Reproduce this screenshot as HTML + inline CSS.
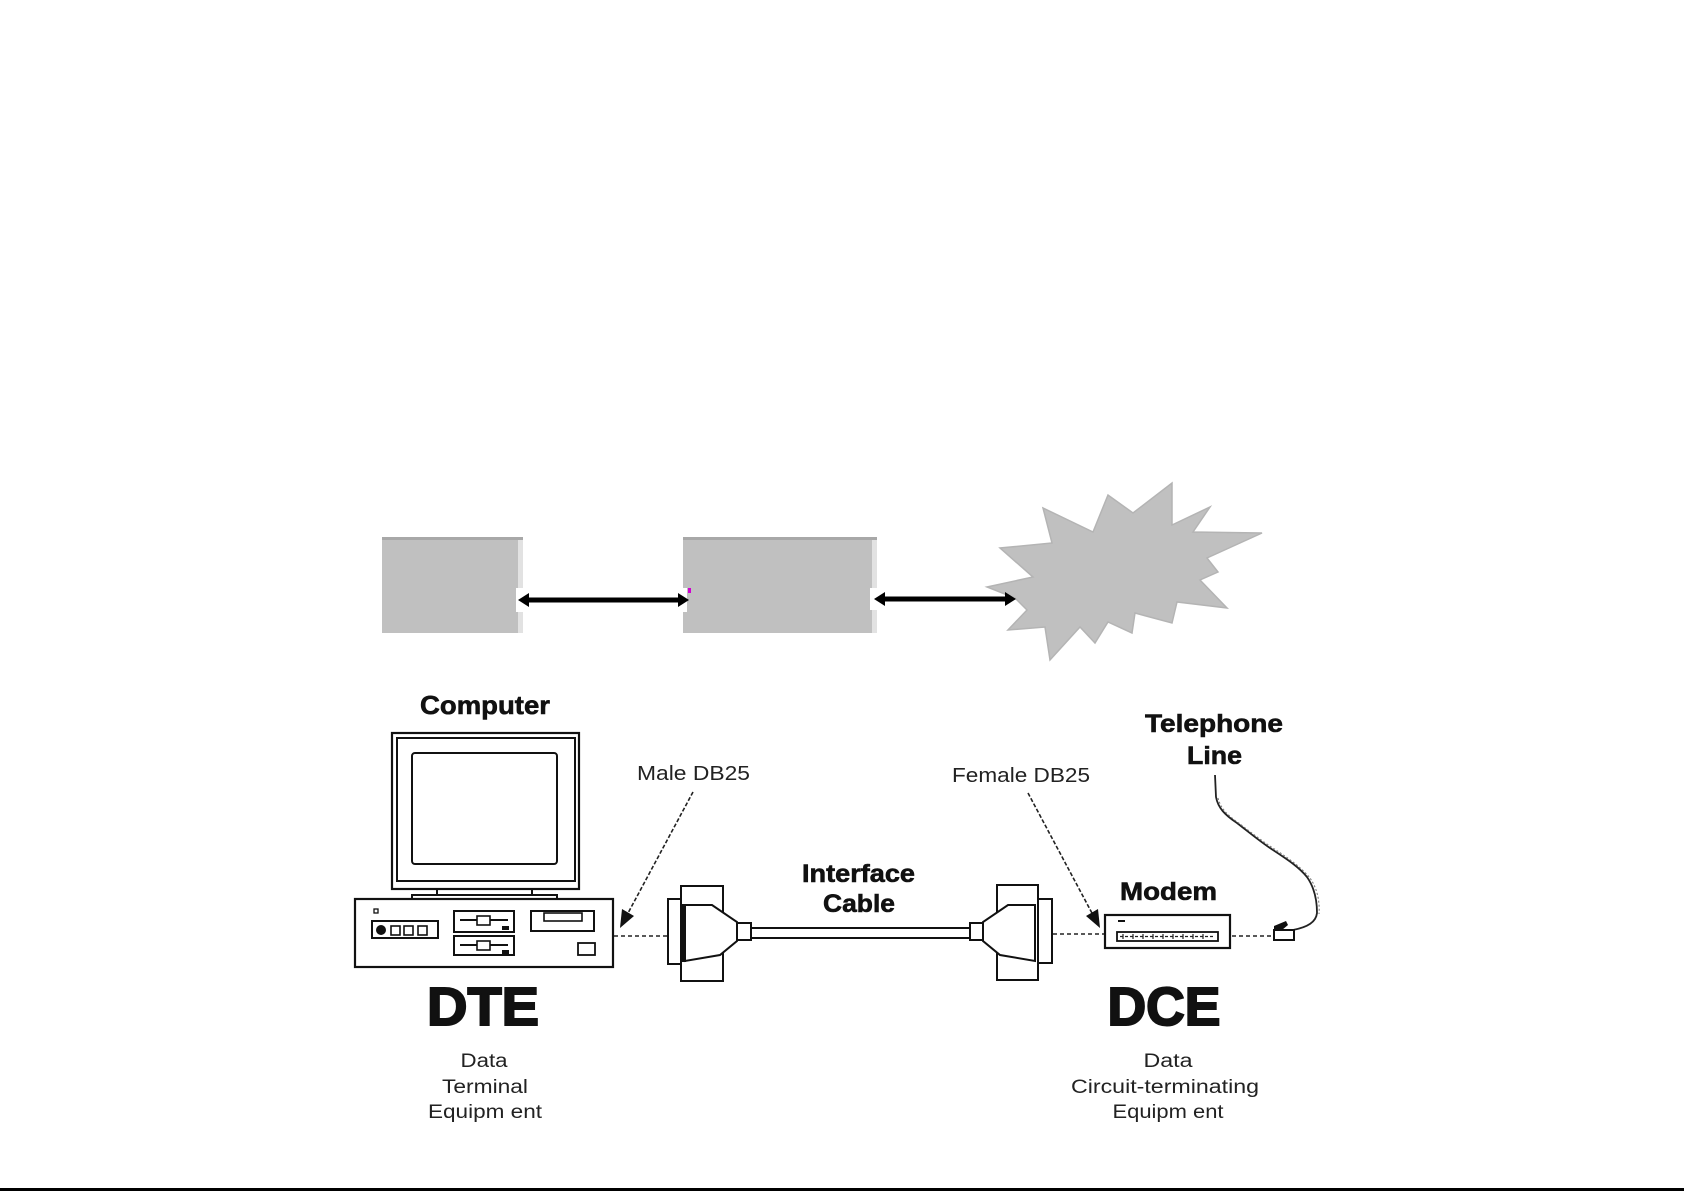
<!DOCTYPE html>
<html>
<head>
<meta charset="utf-8">
<style>
html,body{margin:0;padding:0;background:#fff;}
svg{display:block;}
.b{font-family:"Liberation Sans",sans-serif;font-weight:bold;fill:#111;stroke:#111;stroke-width:0.6;}
.bb{font-family:"Liberation Sans",sans-serif;font-weight:bold;fill:#111;stroke:#111;stroke-width:2;}
.r{font-family:"Liberation Sans",sans-serif;font-weight:normal;fill:#222;}
</style>
</head>
<body>
<svg width="1684" height="1191" viewBox="0 0 1684 1191" xmlns="http://www.w3.org/2000/svg">
<rect x="0" y="0" width="1684" height="1191" fill="#fff"/>

<!-- top row: boxes -->
<rect x="382" y="537" width="141" height="96" fill="#c0c0c0"/>
<rect x="382" y="537" width="141" height="3" fill="#a8a8a8"/>
<rect x="518" y="540" width="5" height="93" fill="#e2e2e2"/>

<rect x="683" y="537" width="194" height="96" fill="#c0c0c0"/>
<rect x="683" y="537" width="194" height="3" fill="#a8a8a8"/>
<rect x="872" y="540" width="5" height="93" fill="#e2e2e2"/>

<!-- star -->
<polygon fill="#c0c0c0" stroke="#b4b4b4" stroke-width="1.5" points="987,587 1033,577 1000,548 1052,543 1043,508 1093,532 1108,495 1133,513 1172,483 1172,525 1210,507 1193,532 1262,533 1207,558 1218,572 1200,580 1227,608 1177,602 1172,623 1135,613 1132,633 1108,622 1095,643 1080,627 1050,660 1045,627 1008,630 1027,610 1015,598"/>

<!-- white patches behind arrow ends -->
<rect x="516" y="588" width="9" height="24" fill="#fff"/>
<rect x="683" y="588" width="4" height="24" fill="#fff"/>
<rect x="870" y="588" width="9" height="22" fill="#fff"/>

<!-- arrow 1 -->
<line x1="525" y1="600" x2="682" y2="600" stroke="#000" stroke-width="5"/>
<polygon points="518,600 529,593 529,607" fill="#000"/>
<polygon points="689,600 678,593 678,607" fill="#000"/>
<rect x="688" y="588" width="3" height="5" fill="#d000d0"/>

<!-- arrow 2 -->
<line x1="881" y1="599" x2="1009" y2="599" stroke="#000" stroke-width="5"/>
<polygon points="874,599 885,592 885,606" fill="#000"/>
<polygon points="1016,599 1005,592 1005,606" fill="#000"/>

<!-- Computer label -->
<text class="b" x="420" y="714" font-size="26" textLength="130" lengthAdjust="spacingAndGlyphs">Computer</text>

<!-- monitor -->
<g fill="none" stroke="#111">
<rect x="392" y="733" width="187" height="156" stroke-width="2.2"/>
<rect x="397" y="738" width="178" height="143" stroke-width="2"/>
<rect x="412" y="753" width="145" height="111" rx="3" stroke-width="2"/>
<rect x="437" y="889" width="95" height="6" stroke-width="2"/>
<rect x="412" y="895" width="145" height="4" stroke-width="2"/>
<!-- case -->
<rect x="355" y="899" width="258" height="68" stroke-width="2.2"/>
<rect x="374" y="909" width="4" height="4" stroke-width="1.3"/>
<rect x="372" y="921" width="66" height="17" stroke-width="2"/>
<rect x="391" y="926" width="9" height="9" stroke-width="1.6"/>
<rect x="404" y="926" width="9" height="9" stroke-width="1.6"/>
<rect x="418" y="926" width="9" height="9" stroke-width="1.6"/>
<rect x="454" y="911" width="60" height="21" stroke-width="2"/>
<rect x="454" y="936" width="60" height="19" stroke-width="2"/>
<line x1="460" y1="920" x2="508" y2="920" stroke-width="2"/>
<line x1="460" y1="945" x2="508" y2="945" stroke-width="2"/>
<rect x="477" y="916" width="13" height="9" stroke-width="1.6" fill="#fff"/>
<rect x="477" y="941" width="13" height="9" stroke-width="1.6" fill="#fff"/>
<rect x="531" y="911" width="63" height="20" stroke-width="2"/>
<rect x="544" y="913" width="38" height="8" stroke-width="1.6"/>
<rect x="578" y="943" width="17" height="12" stroke-width="1.8"/>
</g>
<circle cx="381" cy="930" r="5" fill="#111"/>
<rect x="502" y="926" width="7" height="4" fill="#111"/>
<rect x="502" y="950" width="7" height="4" fill="#111"/>

<!-- Male DB25 label and arrow -->
<text class="r" x="637" y="780" font-size="20" textLength="113" lengthAdjust="spacingAndGlyphs">Male DB25</text>
<line x1="693" y1="792" x2="627" y2="915" stroke="#222" stroke-width="1.6" stroke-dasharray="4 2"/>
<polygon points="620,928 634,916 622,909" fill="#111"/>

<!-- dashed lines -->
<line x1="614" y1="936" x2="668" y2="936" stroke="#222" stroke-width="1.6" stroke-dasharray="4 3"/>
<line x1="1053" y1="934" x2="1104" y2="934" stroke="#222" stroke-width="1.6" stroke-dasharray="4 3"/>
<line x1="1232" y1="936" x2="1272" y2="936" stroke="#222" stroke-width="1.6" stroke-dasharray="4 3"/>

<!-- left connector -->
<g fill="#fff" stroke="#111" stroke-width="2">
<rect x="681" y="886" width="42" height="95"/>
<rect x="668" y="899" width="13" height="65"/>
<polygon points="685,905 712,905 737,922 737,941 720,955 685,961"/>
<rect x="737" y="923" width="14" height="17"/>
</g>
<rect x="682" y="904" width="4" height="58" fill="#111"/>

<!-- cable -->
<line x1="751" y1="928" x2="970" y2="928" stroke="#111" stroke-width="2"/>
<line x1="751" y1="938" x2="970" y2="938" stroke="#111" stroke-width="2"/>

<!-- right connector (mirror) -->
<g fill="#fff" stroke="#111" stroke-width="2">
<rect x="997" y="885" width="41" height="95"/>
<rect x="1038" y="899" width="14" height="64"/>
<polygon points="1035,905 1008,905 983,922 983,941 1000,955 1035,961"/>
<rect x="970" y="923" width="13" height="17"/>
</g>

<!-- Interface Cable label -->
<text class="b" x="802" y="882" font-size="25" textLength="113" lengthAdjust="spacingAndGlyphs">Interface</text>
<text class="b" x="823" y="912" font-size="25" textLength="72" lengthAdjust="spacingAndGlyphs">Cable</text>

<!-- Female DB25 label and arrow -->
<text class="r" x="952" y="782" font-size="20" textLength="138" lengthAdjust="spacingAndGlyphs">Female DB25</text>
<line x1="1028" y1="793" x2="1093" y2="915" stroke="#222" stroke-width="1.6" stroke-dasharray="4 2"/>
<polygon points="1100,928 1098,909 1086,916" fill="#111"/>

<!-- Modem -->
<text class="b" x="1120" y="900" font-size="25" textLength="97" lengthAdjust="spacingAndGlyphs">Modem</text>
<rect x="1105" y="915" width="125" height="33" fill="#fff" stroke="#111" stroke-width="2.2"/>
<rect x="1117" y="932" width="101" height="9" fill="#fff" stroke="#111" stroke-width="1.8"/>
<line x1="1118" y1="921" x2="1125" y2="921" stroke="#111" stroke-width="2"/>
<g fill="none" stroke="#222" stroke-width="1.2">
<line x1="1120" y1="936.5" x2="1215" y2="936.5" stroke-dasharray="3 2"/>
<line x1="1123" y1="934" x2="1123" y2="939"/><line x1="1133" y1="934" x2="1133" y2="939"/>
<line x1="1143" y1="934" x2="1143" y2="939"/><line x1="1153" y1="934" x2="1153" y2="939"/>
<line x1="1163" y1="934" x2="1163" y2="939"/><line x1="1173" y1="934" x2="1173" y2="939"/>
<line x1="1183" y1="934" x2="1183" y2="939"/><line x1="1193" y1="934" x2="1193" y2="939"/>
<line x1="1203" y1="934" x2="1203" y2="939"/>
</g>

<!-- Telephone line -->
<text class="b" x="1145" y="732" font-size="25" textLength="138" lengthAdjust="spacingAndGlyphs">Telephone</text>
<text class="b" x="1187" y="764" font-size="25" textLength="55" lengthAdjust="spacingAndGlyphs">Line</text>
<path d="M1215,775 L1216,797 C1218,808 1225,815 1237,823 C1250,833 1262,843 1273,850 C1285,858 1298,866 1307,877 C1314,887 1317,900 1317,913 C1316,922 1308,927 1293,930" fill="none" stroke="#222" stroke-width="1.8"/>
<path d="M1218,798 C1221,810 1229,816 1240,824 C1253,834 1265,843 1276,850 C1288,858 1301,867 1310,878 C1317,888 1320,901 1319,914" fill="none" stroke="#777" stroke-width="1" stroke-dasharray="2 2"/>
<rect x="1274" y="930" width="20" height="10" fill="#fff" stroke="#111" stroke-width="2"/>
<polygon points="1274,930 1274,926 1286,921 1288,925 1282,930" fill="#111"/>

<!-- DTE / DCE -->
<text class="bb" x="483" y="1025" font-size="54" text-anchor="middle" textLength="112" lengthAdjust="spacingAndGlyphs">DTE</text>
<text class="r" x="484" y="1067" font-size="19" text-anchor="middle" textLength="47" lengthAdjust="spacingAndGlyphs">Data</text>
<text class="r" x="485" y="1093" font-size="19" text-anchor="middle" textLength="86" lengthAdjust="spacingAndGlyphs">Terminal</text>
<text class="r" x="485" y="1118" font-size="19" text-anchor="middle" textLength="114" lengthAdjust="spacingAndGlyphs">Equipm ent</text>

<text class="bb" x="1164" y="1025" font-size="54" text-anchor="middle" textLength="113" lengthAdjust="spacingAndGlyphs">DCE</text>
<text class="r" x="1168" y="1067" font-size="19" text-anchor="middle" textLength="49" lengthAdjust="spacingAndGlyphs">Data</text>
<text class="r" x="1165" y="1093" font-size="19" text-anchor="middle" textLength="188" lengthAdjust="spacingAndGlyphs">Circuit-terminating</text>
<text class="r" x="1168" y="1118" font-size="19" text-anchor="middle" textLength="111" lengthAdjust="spacingAndGlyphs">Equipm ent</text>

<!-- bottom border line -->
<rect x="0" y="1188" width="1684" height="3" fill="#000"/>
</svg>
</body>
</html>
